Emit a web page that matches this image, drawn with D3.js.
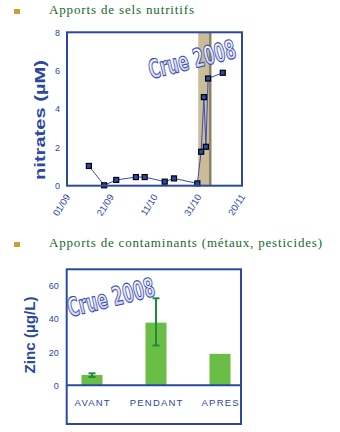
<!DOCTYPE html>
<html>
<head>
<meta charset="utf-8">
<script src="https://cdn.jsdelivr.net/npm/d3@7"></script>
<style>
  body { margin: 0; background: #fff; }
  svg { display: block; }
</style>
</head>
<body>
<script>
// Section titles
const sectionTitles = ["Apports de sels nutritifs", "Apports de contaminants (métaux, pesticides)"];

// Nitrate sampling (date, µM)
const nitrateDates = [
  "2008-09-11 00:00", "2008-09-18 00:00", "2008-09-23 12:00", "2008-10-02 12:00",
  "2008-10-06 12:00", "2008-10-15 16:00", "2008-10-19 22:00", "2008-10-30 14:00",
  "2008-11-01 08:00", "2008-11-02 14:00", "2008-11-03 12:00", "2008-11-04 12:00",
  "2008-11-11 05:00"
];
const nitrateValues = [1.03, 0.02, 0.30, 0.45, 0.45, 0.21, 0.38, 0.12, 1.77, 4.62, 2.03, 5.59, 5.89];
const nitrateTicks = [0, 2, 4, 6, 8];
const dateTicks = ["2008-09-01 00:00", "2008-09-21 00:00", "2008-10-11 00:00", "2008-10-31 00:00", "2008-11-20 00:00"];
const floodPeriod = ["2008-10-31 00:00", "2008-11-06 00:00"];
const floodLabel = "Crue 2008";

// Zinc by period (µg/L) with error range
const zincPeriods = ["AVANT", "PENDANT", "APRES"];
const zincMeans = [6.2, 37.8, 19.0];
const zincLow = [5.0, 24.0, null];
const zincHigh = [7.2, 52.5, null];
const zincTicks = [0, 20, 40, 60];

const parse = d3.utcParse("%Y-%m-%d %H:%M");
const blue = "#2b48a2";
const green = "#6abd45";
const darkGreen = "#1e8c3a";
const titleGreen = "#17692c";

const svg = d3.select("body").append("svg")
  .attr("width", 340).attr("height", 432);

const defs = svg.append("defs");
const grad = defs.append("linearGradient").attr("id", "crueFill")
  .attr("x1", 0).attr("y1", 0).attr("x2", 0).attr("y2", 1);
grad.append("stop").attr("offset", "0%").attr("stop-color", "#ffffff");
grad.append("stop").attr("offset", "100%").attr("stop-color", "#c5cdf0");

// Titles with bullets
const titleY = [14, 247];
sectionTitles.forEach((t, i) => {
  svg.append("rect").attr("x", 14).attr("y", titleY[i] - 5).attr("width", 6).attr("height", 5)
    .attr("fill", "#c9a032");
  svg.append("text").attr("x", 49).attr("y", titleY[i])
    .attr("font-family", "'Liberation Serif', serif").attr("font-size", 13)
    .attr("fill", titleGreen)
    .attr("textLength", i === 0 ? 145 : 273)
    .text(t);
});

function crueText(g, x, y) {
  g.append("text")
    .attr("transform", `translate(${x},${y}) rotate(-14)`)
    .attr("font-family", "'Liberation Sans Narrow','DejaVu Sans Condensed',sans-serif")
    .attr("font-weight", "bold").attr("font-size", 26)
    .attr("textLength", 89).attr("lengthAdjust", "spacingAndGlyphs")
    .attr("fill", "url(#crueFill)").attr("stroke", "#3a4ab0").attr("stroke-width", 1.1)
    .text(floodLabel);
}

// ---------- Nitrates vs time ----------
const box1 = { l: 67, r: 242, t: 32.3, b: 185.7 };
const x = d3.scaleUtc().domain([parse(dateTicks[0]), parse(dateTicks[dateTicks.length - 1])])
  .range([box1.l, box1.r]);
const y = d3.scaleLinear().domain([0, 8]).range([box1.b, box1.t]);

const g1 = svg.append("g");

// flood band
const fx0 = x(parse(floodPeriod[0])), fx1 = x(parse(floodPeriod[1]));
g1.append("rect").attr("x", fx0).attr("y", box1.t).attr("width", fx1 - fx0).attr("height", box1.b - box1.t)
  .attr("fill", "#c9bd98");
g1.append("rect").attr("x", fx1 - 2.4).attr("y", box1.t).attr("width", 2.4).attr("height", box1.b - box1.t)
  .attr("fill", "#8a8266");

const pts = nitrateDates.map((d, i) => ({ date: parse(d), v: nitrateValues[i] }));
g1.append("path").datum(pts)
  .attr("d", d3.line().x(d => x(d.date)).y(d => y(d.v)))
  .attr("fill", "none").attr("stroke", "#3c4cb4").attr("stroke-width", 1);
g1.selectAll("rect.pt").data(pts).join("rect").attr("class", "pt")
  .attr("x", d => x(d.date) - 2.5).attr("y", d => y(d.v) - 2.5)
  .attr("width", 5).attr("height", 5)
  .attr("fill", "#2a4aa8").attr("stroke", "#000").attr("stroke-width", 1.2);

crueText(g1, 151, 79);

g1.append("rect").attr("x", box1.l).attr("y", box1.t).attr("width", box1.r - box1.l).attr("height", box1.b - box1.t)
  .attr("fill", "none").attr("stroke", blue).attr("stroke-width", 2);

const yAx = g1.append("g").attr("transform", `translate(${box1.l},0)`)
  .call(d3.axisLeft(y).tickValues(nitrateTicks).tickSize(0).tickPadding(7));
yAx.select(".domain").remove();
yAx.selectAll("text").attr("font-family", "'Liberation Sans',sans-serif").attr("font-size", 9).attr("fill", blue);

g1.append("text")
  .attr("transform", `translate(45,120) rotate(-90)`)
  .attr("text-anchor", "middle")
  .attr("font-family", "'Liberation Sans',sans-serif").attr("font-weight", "bold").attr("font-size", 14)
  .attr("textLength", 120).attr("lengthAdjust", "spacingAndGlyphs")
  .attr("fill", blue).text("nitrates (µM)");

const xAx = g1.append("g").attr("transform", `translate(0,${box1.b})`)
  .call(d3.axisBottom(x).tickValues(dateTicks.map(parse)).tickFormat(d3.utcFormat("%d/%m")).tickSize(0));
xAx.select(".domain").remove();
xAx.selectAll("text")
  .attr("x", 0).attr("y", 0).attr("dy", 0)
  .attr("transform", "translate(3,11) rotate(-58)")
  .attr("text-anchor", "end")
  .attr("font-family", "'Liberation Sans',sans-serif").attr("font-size", 9.5).attr("fill", blue);

// ---------- Zinc by period ----------
const box2 = { l: 66.7, r: 241, t: 269.3, b: 424 };
const y2 = d3.scaleLinear().domain([0, 70]).range([385.3, box2.t]);
const xb = d3.scalePoint().domain(zincPeriods).range([60, 252]).padding(0.5);
const barW = 21;

const g2 = svg.append("g");
crueText(g2, 70, 317);

g2.selectAll("rect.bar").data(zincPeriods).join("rect").attr("class", "bar")
  .attr("x", d => xb(d) - barW / 2).attr("width", barW)
  .attr("y", (d, i) => y2(zincMeans[i])).attr("height", (d, i) => y2(0) - y2(zincMeans[i]))
  .attr("fill", green);

zincPeriods.forEach((p, i) => {
  if (zincLow[i] == null) return;
  const cx = xb(p);
  const e = g2.append("g").attr("stroke", darkGreen).attr("stroke-width", 2);
  e.append("line").attr("x1", cx).attr("x2", cx).attr("y1", y2(zincLow[i])).attr("y2", y2(zincHigh[i]));
  [zincLow[i], zincHigh[i]].forEach(v => {
    e.append("line").attr("x1", cx - 3.5).attr("x2", cx + 3.5).attr("y1", y2(v)).attr("y2", y2(v));
  });
});

g2.append("rect").attr("x", box2.l).attr("y", box2.t).attr("width", box2.r - box2.l).attr("height", box2.b - box2.t)
  .attr("fill", "none").attr("stroke", blue).attr("stroke-width", 2);
g2.append("line").attr("x1", box2.l).attr("x2", box2.r).attr("y1", y2(0)).attr("y2", y2(0))
  .attr("stroke", blue).attr("stroke-width", 2);

const y2Ax = g2.append("g").attr("transform", `translate(${box2.l},0)`)
  .call(d3.axisLeft(y2).tickValues(zincTicks).tickSize(0).tickPadding(8));
y2Ax.select(".domain").remove();
y2Ax.selectAll("text").attr("font-family", "'Liberation Sans',sans-serif").attr("font-size", 9).attr("fill", blue);

g2.selectAll("text.cat").data(zincPeriods).join("text").attr("class", "cat")
  .attr("x", d => xb(d) + 0.7).attr("y", 406)
  .attr("text-anchor", "middle")
  .attr("font-family", "'Liberation Sans',sans-serif").attr("font-size", 9.5)
  .attr("letter-spacing", 1.2).attr("fill", blue)
  .text(d => d);

g2.append("text")
  .attr("transform", `translate(35,335) rotate(-90)`)
  .attr("text-anchor", "middle")
  .attr("font-family", "'Liberation Sans',sans-serif").attr("font-weight", "bold").attr("font-size", 14)
  .attr("textLength", 77).attr("lengthAdjust", "spacingAndGlyphs")
  .attr("fill", blue).text("Zinc (µg/L)");
</script>
</body>
</html>
